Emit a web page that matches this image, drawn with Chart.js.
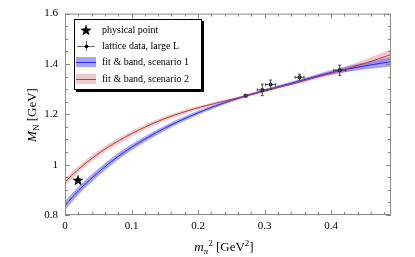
<!DOCTYPE html>
<html>
<head>
<meta charset="utf-8">
<script src="https://cdn.jsdelivr.net/npm/chart.js@4.4.1/dist/chart.umd.min.js"></script>
<style>
  html, body { margin: 0; padding: 0; background: #fff; }
  #wrap { width: 415px; height: 257px; }
</style>
</head>
<body>
<div id="wrap"><canvas id="c" width="415" height="257"></canvas></div>
<script>
// m_pi^2 grid used for both fit curves [GeV^2]
const fitX = [0, 0.005, 0.01, 0.02, 0.03, 0.045, 0.06, 0.08, 0.1, 0.125, 0.15, 0.175, 0.2, 0.225, 0.25, 0.275, 0.3, 0.325, 0.35, 0.375, 0.4, 0.425, 0.45, 0.49];

// scenario 1 (blue) central values and band half widths
const fit1 = [0.837, 0.853, 0.868, 0.896, 0.922, 0.958, 0.992, 1.033, 1.069, 1.109, 1.145, 1.177, 1.206, 1.232, 1.255, 1.276, 1.295, 1.313, 1.331, 1.349, 1.366, 1.380, 1.392, 1.409];
const band1 = [0.017, 0.017, 0.016, 0.016, 0.015, 0.015, 0.014, 0.013, 0.012, 0.011, 0.010, 0.009, 0.008, 0.007, 0.006, 0.005, 0.005, 0.005, 0.006, 0.007, 0.009, 0.011, 0.014, 0.019];

// scenario 2 (red)
const fit2 = [0.930, 0.944, 0.957, 0.981, 1.003, 1.034, 1.062, 1.094, 1.123, 1.155, 1.183, 1.206, 1.226, 1.243, 1.259, 1.275, 1.292, 1.309, 1.326, 1.345, 1.364, 1.382, 1.402, 1.437];
const band2 = [0.014, 0.014, 0.014, 0.013, 0.013, 0.013, 0.012, 0.012, 0.011, 0.010, 0.009, 0.008, 0.007, 0.006, 0.005, 0.004, 0.004, 0.004, 0.005, 0.007, 0.009, 0.012, 0.015, 0.021];

// lattice data, large L
const latX = [0.2715, 0.2965, 0.309, 0.3525, 0.413];
const latY = [1.274, 1.297, 1.318, 1.347, 1.375];
const latErrX = [0.002, 0.0075, 0.0075, 0.0068, 0.009];
const latErrY = [0.005, 0.023, 0.018, 0.012, 0.02];

// physical point
const physX = [0.0195];
const physY = [0.939];

const xTicks = [0, 0.1, 0.2, 0.3, 0.4];
const yTicks = [0.8, 1, 1.2, 1.4, 1.6];

const legendLabels = ['physical point', 'lattice data, large L', 'fit & band, scenario 1', 'fit & band, scenario 2'];

const SERIF = '"Liberation Serif", "DejaVu Serif", serif';
const BLUE = '#2a2aff', BLUE_BAND = 'rgba(90,90,255,0.55)';
const RED = '#c83232', RED_BAND = 'rgba(215,130,130,0.42)';

const pts = (xs, ys) => xs.map((x, i) => ({ x: x, y: ys[i] }));

function makeStar(size) {
  const cv = document.createElement('canvas');
  cv.width = size; cv.height = size;
  const g = cv.getContext('2d');
  const cx = size / 2, cy = size / 2 + 0.5, R = size / 2, r = R * 0.42;
  g.beginPath();
  for (let i = 0; i < 10; i++) {
    const a = -Math.PI / 2 + i * Math.PI / 5;
    const rr = i % 2 ? r : R;
    g.lineTo(cx + rr * Math.cos(a), cy + rr * Math.sin(a));
  }
  g.closePath();
  g.fillStyle = '#000';
  g.fill();
  return cv;
}
const star = makeStar(12);

function band(ys, hw, sign) { return ys.map((y, i) => y + sign * hw[i]); }

function drawRich(ctx, parts, x, y) {
  // parts: [text, font, dy]
  let w = 0;
  parts.forEach(p => { ctx.font = p[1]; w += ctx.measureText(p[0]).width; });
  let cx = x - w / 2;
  parts.forEach(p => {
    ctx.font = p[1];
    ctx.fillText(p[0], cx, y + (p[2] || 0));
    cx += ctx.measureText(p[0]).width;
  });
}

const deco = {
  id: 'deco',
  afterDatasetsDraw(chart) {
    const ctx = chart.ctx, xs = chart.scales.x, ys = chart.scales.y;
    // error bars
    ctx.save();
    ctx.strokeStyle = '#444';
    ctx.lineWidth = 1;
    latX.forEach((x, i) => {
      const px = xs.getPixelForValue(x), py = ys.getPixelForValue(latY[i]);
      const x0 = xs.getPixelForValue(x - latErrX[i]), x1 = xs.getPixelForValue(x + latErrX[i]);
      const y0 = ys.getPixelForValue(latY[i] - latErrY[i]), y1 = ys.getPixelForValue(latY[i] + latErrY[i]);
      ctx.beginPath();
      ctx.moveTo(x0, py); ctx.lineTo(x1, py);
      ctx.moveTo(px, y0); ctx.lineTo(px, y1);
      ctx.moveTo(x0, py - 1.5); ctx.lineTo(x0, py + 1.5);
      ctx.moveTo(x1, py - 1.5); ctx.lineTo(x1, py + 1.5);
      ctx.moveTo(px - 1.5, y0); ctx.lineTo(px + 1.5, y0);
      ctx.moveTo(px - 1.5, y1); ctx.lineTo(px + 1.5, y1);
      ctx.stroke();
    });
    ctx.restore();
  },
  afterDraw(chart) {
    const ctx = chart.ctx, a = chart.chartArea, xs = chart.scales.x, ys = chart.scales.y;
    ctx.save();
    // frame + inward ticks on all sides
    ctx.strokeStyle = '#888';
    ctx.lineWidth = 1;
    ctx.strokeRect(a.left + 0.5, a.top + 0.5, a.right - a.left - 1, a.bottom - a.top - 1);
    ctx.beginPath();
    for (let k = 0; k <= 24; k++) {
      const v = k * 0.02, len = k % 5 === 0 ? 5 : 3;
      const px = Math.round(xs.getPixelForValue(v)) + 0.5;
      ctx.moveTo(px, a.bottom); ctx.lineTo(px, a.bottom - len);
      ctx.moveTo(px, a.top); ctx.lineTo(px, a.top + len);
    }
    for (let k = 0; k <= 16; k++) {
      const v = 0.8 + k * 0.05, len = k % 4 === 0 ? 5 : 3;
      const py = Math.round(ys.getPixelForValue(v)) + 0.5;
      ctx.moveTo(a.left, py); ctx.lineTo(a.left + len, py);
      ctx.moveTo(a.right, py); ctx.lineTo(a.right - len, py);
    }
    ctx.stroke();

    // legend box
    const L = 74, T = 19, W = 128, H = 71;
    ctx.fillStyle = '#000';
    ctx.fillRect(L + 2, T + 2, W, H);
    ctx.fillStyle = '#fff';
    ctx.fillRect(L, T, W, H);
    ctx.strokeStyle = '#000';
    ctx.strokeRect(L + 0.5, T + 0.5, W - 1, H - 1);
    const rows = [30, 46, 62, 79];
    ctx.drawImage(star, 80, rows[0] - 6);
    ctx.strokeStyle = '#666';
    ctx.beginPath();
    ctx.moveTo(77, rows[1] + 0.5); ctx.lineTo(95, rows[1] + 0.5);
    ctx.moveTo(86.5, rows[1] - 5); ctx.lineTo(86.5, rows[1] + 5);
    ctx.stroke();
    ctx.fillStyle = '#000';
    ctx.beginPath(); ctx.arc(86.5, rows[1] + 0.5, 1.8, 0, Math.PI * 2); ctx.fill();
    ctx.fillStyle = BLUE_BAND; ctx.fillRect(76, rows[2] - 5, 20, 10);
    ctx.strokeStyle = BLUE; ctx.beginPath(); ctx.moveTo(76, rows[2] + 0.5); ctx.lineTo(96, rows[2] + 0.5); ctx.stroke();
    ctx.fillStyle = RED_BAND; ctx.fillRect(76, rows[3] - 5, 20, 10);
    ctx.strokeStyle = RED; ctx.beginPath(); ctx.moveTo(76, rows[3] + 0.5); ctx.lineTo(96, rows[3] + 0.5); ctx.stroke();
    ctx.fillStyle = '#000';
    ctx.font = '10px ' + SERIF;
    ctx.textBaseline = 'middle';
    legendLabels.forEach((t, i) => ctx.fillText(t, 102, rows[i] + 0.5));

    // axis titles
    ctx.textBaseline = 'alphabetic';
    drawRich(ctx, [
      ['m', 'italic 13px ' + SERIF], ['π', 'italic 9px ' + SERIF, 3], ['2', '9px ' + SERIF, -5],
      [' [GeV', '13px ' + SERIF], ['2', '9px ' + SERIF, -5], [']', '13px ' + SERIF]
    ], 224, 251);
    ctx.translate(36, 115);
    ctx.rotate(-Math.PI / 2);
    drawRich(ctx, [
      ['M', 'italic 13px ' + SERIF], ['N', '9px ' + SERIF, 3], [' [GeV]', '13px ' + SERIF]
    ], 0, 0);
    ctx.restore();
  }
};

const line = (data, color, width, order, fill, bg) => ({
  data: data, borderColor: color, borderWidth: width, backgroundColor: bg || 'transparent',
  fill: fill || false, pointRadius: 0, cubicInterpolationMode: 'monotone', order: order
});

new Chart(document.getElementById('c'), {
  type: 'line',
  data: {
    datasets: [
      line(pts(fitX, band(fit2, band2, 1)), 'transparent', 0, 6, '+1', RED_BAND),
      line(pts(fitX, band(fit2, band2, -1)), 'transparent', 0, 6),
      line(pts(fitX, band(fit1, band1, 1)), 'transparent', 0, 5, '+1', BLUE_BAND),
      line(pts(fitX, band(fit1, band1, -1)), 'transparent', 0, 5),
      line(pts(fitX, fit1), BLUE, 1, 4),
      line(pts(fitX, fit2), RED, 1, 3),
      { data: pts(latX, latY), showLine: false, pointRadius: 2, pointBackgroundColor: '#000', pointBorderWidth: 0, order: 2 },
      { data: pts(physX, physY), showLine: false, pointStyle: star, order: 1 }
    ]
  },
  options: {
    responsive: false,
    animation: false,
    layout: { padding: { top: 13, right: 24, left: 0, bottom: 0 } },
    plugins: { legend: { display: false }, tooltip: { enabled: false } },
    scales: {
      x: {
        type: 'linear', min: 0, max: 0.49,
        grid: { display: false, drawTicks: false }, border: { display: false },
        ticks: {
          stepSize: 0.1, includeBounds: false, autoSkip: false, maxRotation: 0, padding: 5,
          color: '#000', font: { family: SERIF, size: 11 },
          callback: v => xTicks.some(t => Math.abs(t - v) < 1e-6) ? String(+v.toFixed(2)) : ''
        },
        afterFit: s => { s.height = 42; }
      },
      y: {
        type: 'linear', min: 0.8, max: 1.6,
        grid: { display: false, drawTicks: false }, border: { display: false },
        ticks: {
          stepSize: 0.2, autoSkip: false, padding: 7,
          color: '#000', font: { family: SERIF, size: 11 },
          callback: v => yTicks.some(t => Math.abs(t - v) < 1e-6) ? String(+v.toFixed(2)) : ''
        },
        afterFit: s => { s.width = 65; }
      }
    }
  },
  plugins: [deco]
});
</script>
</body>
</html>
